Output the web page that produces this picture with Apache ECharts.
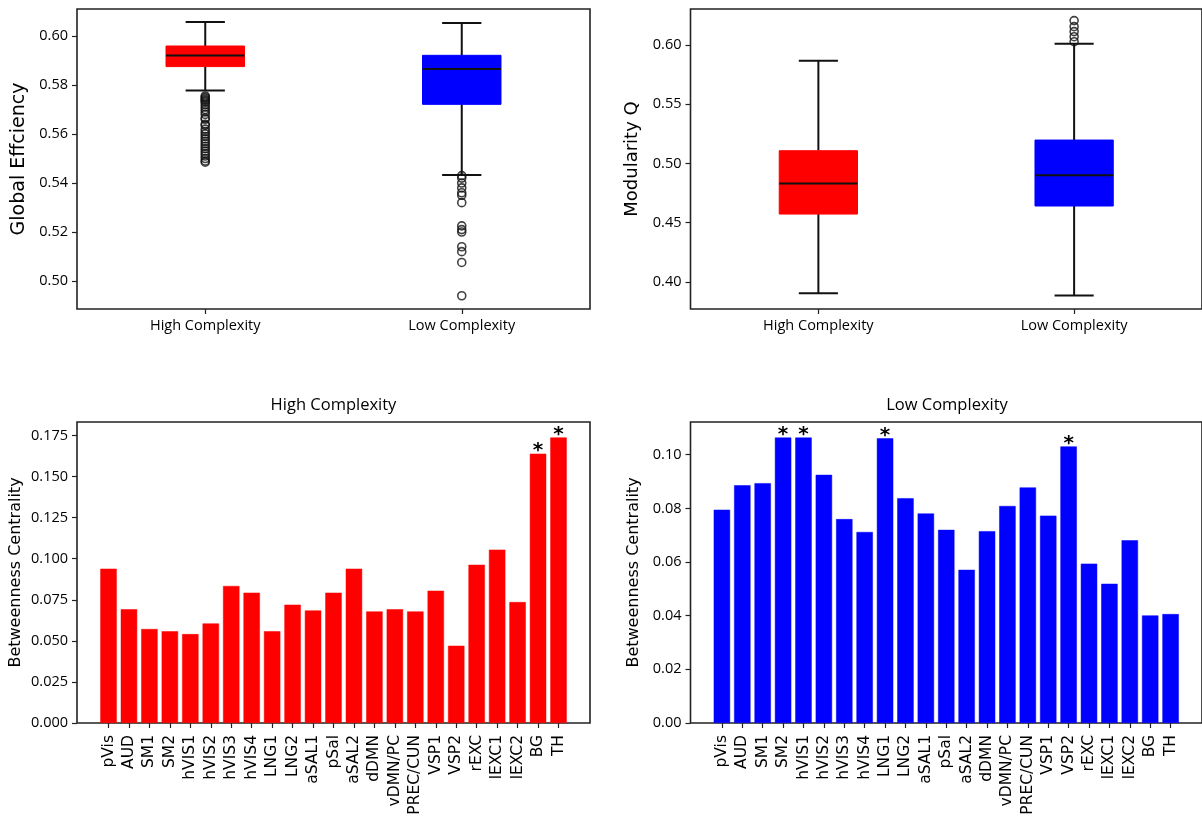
<!DOCTYPE html>
<html>
<head>
<meta charset="utf-8">
<script src="https://cdn.jsdelivr.net/npm/echarts@6/dist/echarts.min.js"></script>
<style>html,body{margin:0;padding:0;background:#fff}#c{width:1202px;height:819px}</style>
</head>
<body>
<div id="c"></div>
<script>
// ---- data ----
const groups = ['High Complexity', 'Low Complexity'];
// [min(whisker), Q1, median, Q3, max(whisker)]
const effHigh = [0.5777, 0.5875, 0.5920, 0.5959, 0.6057];
const effLow  = [0.5433, 0.5721, 0.5865, 0.5921, 0.6053];
const effOutHigh = [0.5755,0.575,0.5745,0.574,0.5735,0.573,0.572,0.571,0.570,0.569,0.568,0.5665,0.566,0.564,0.5635,0.562,0.561,0.560,0.559,0.558,0.557,0.556,0.555,0.554,0.553,0.552,0.551,0.550,0.549,0.5485];
const effOutLow = [0.543,0.542,0.540,0.538,0.536,0.535,0.532,0.5225,0.521,0.520,0.514,0.512,0.5076,0.494];
const modHigh = [0.3902, 0.4572, 0.4831, 0.5107, 0.5867];
const modLow  = [0.3884, 0.4640, 0.4899, 0.5197, 0.6010];
const modOutLow = [0.6028, 0.607, 0.6113, 0.6155, 0.6206];
const effTicks = [0.50, 0.52, 0.54, 0.56, 0.58, 0.60];
const modTicks = [0.40, 0.45, 0.50, 0.55, 0.60];

const regions = ['pVis','AUD','SM1','SM2','hVIS1','hVIS2','hVIS3','hVIS4','LNG1','LNG2','aSAL1','pSal','aSAL2','dDMN','vDMN/PC','PREC/CUN','VSP1','VSP2','rEXC','lEXC1','lEXC2','BG','TH'];
const bcHigh = [0.0939,0.0692,0.0572,0.0558,0.0541,0.0606,0.0834,0.0793,0.0558,0.0720,0.0685,0.0793,0.0939,0.0679,0.0692,0.0679,0.0805,0.0470,0.0963,0.1055,0.0736,0.1639,0.1738];
const bcLow  = [0.0795,0.0886,0.0894,0.1064,0.1064,0.0925,0.0760,0.0712,0.1061,0.0838,0.0781,0.0720,0.0571,0.0715,0.0809,0.0878,0.0773,0.1031,0.0594,0.0519,0.0681,0.0401,0.0406];
const sigHigh = ['BG','TH'];
const sigLow  = ['SM2','hVIS1','LNG1','VSP2'];
const bcHighTicks = [0, 0.025, 0.05, 0.075, 0.1, 0.125, 0.15, 0.175];
const bcLowTicks  = [0, 0.02, 0.04, 0.06, 0.08, 0.10];

// ---- chart ----
const TICKFONT = "'Open Sans', sans-serif";
const NAMEFONT = "'DejaVu Sans', sans-serif";
const idx = regions.map((_, i) => i);
const XMIN = -1.54, XMAX = regions.length - 1 + 1.54;

function grid(left, top, h) {
  return { left: left, top: top, width: 513, height: h, show: true, borderColor: '#222', borderWidth: 1.6, containLabel: false };
}
function catX(g) {
  return {
    type: 'category', gridIndex: g, data: groups,
    axisLine: { show: false, onZero: false },
    axisTick: { show: true, alignWithLabel: true, length: 5, lineStyle: { color: '#222', width: 1.2 } },
    axisLabel: { fontFamily: TICKFONT, fontSize: 14.5, color: '#000', margin: 9 },
    splitLine: { show: false }
  };
}
function barX(g) {
  return {
    type: 'value', gridIndex: g, min: XMIN, max: XMAX,
    axisLine: { show: false, onZero: false },
    axisTick: { show: true, length: 5, customValues: idx, lineStyle: { color: '#222', width: 1.2 } },
    axisLabel: { customValues: idx, rotate: 90, fontFamily: NAMEFONT, fontSize: 15.5, color: '#000', margin: 12,
      formatter: v => regions[Math.round(v)] },
    splitLine: { show: false }
  };
}
function valY(g, min, max, ticks, dec, name, nameSize, gap) {
  return {
    type: 'value', gridIndex: g, min: min, max: max,
    name: name, nameLocation: 'middle', nameGap: gap, nameRotate: 90,
    nameTextStyle: { fontFamily: NAMEFONT, fontSize: nameSize, color: '#000' },
    axisLine: { show: false, onZero: false },
    axisTick: { show: true, length: 5, customValues: ticks, lineStyle: { color: '#222', width: 1.2 } },
    axisLabel: { customValues: ticks, fontFamily: TICKFONT, fontSize: 14.5, color: '#000', margin: 9,
      formatter: v => v.toFixed(dec) },
    splitLine: { show: false }
  };
}

function boxRender(colors) {
  return function (params, api) {
    const c = api.value(0);
    const lo = api.coord([c, api.value(1)]);
    const q1 = api.coord([c, api.value(2)]);
    const md = api.coord([c, api.value(3)]);
    const q3 = api.coord([c, api.value(4)]);
    const hi = api.coord([c, api.value(5)]);
    const bw = api.size([1, 0])[0];
    const half = bw * 0.153;
    const cap = half / 2;
    const x = lo[0];
    const ls = { stroke: '#111', lineWidth: 2 };
    return {
      type: 'group',
      children: [
        { type: 'line', shape: { x1: x, y1: q1[1], x2: x, y2: lo[1] }, style: ls },
        { type: 'line', shape: { x1: x, y1: q3[1], x2: x, y2: hi[1] }, style: ls },
        { type: 'line', shape: { x1: x - cap, y1: lo[1], x2: x + cap, y2: lo[1] }, style: ls },
        { type: 'line', shape: { x1: x - cap, y1: hi[1], x2: x + cap, y2: hi[1] }, style: ls },
        { type: 'rect', shape: { x: x - half, y: q3[1], width: 2 * half, height: q1[1] - q3[1] },
          style: { fill: colors[c], stroke: colors[c], lineWidth: 1 } },
        { type: 'line', shape: { x1: x - half, y1: md[1], x2: x + half, y2: md[1] }, style: ls }
      ]
    };
  };
}
const boxColors = ['#ff0000', '#0000ff'];
function outlierSeries(xi, yi, cat, vals) {
  return {
    type: 'scatter', xAxisIndex: xi, yAxisIndex: yi, symbol: 'circle', symbolSize: 8,
    itemStyle: { color: 'rgba(0,0,0,0)', borderColor: '#111', borderWidth: 1.6 },
    data: vals.map(v => [cat, v]), silent: true
  };
}
function barSeries(xi, yi, vals, color, sig) {
  return {
    type: 'bar', xAxisIndex: xi, yAxisIndex: yi, barWidth: 16.4,
    itemStyle: { color: color, borderColor: color, borderWidth: 0.5 },
    data: vals.map((v, i) => [i, v]),
    label: { show: true, position: 'top', distance: -7, fontFamily: NAMEFONT, fontSize: 20, fontWeight: 'bold', color: '#000',
      formatter: p => sig.indexOf(regions[p.dataIndex]) >= 0 ? '*' : '' },
    silent: true
  };
}

const option = {
  animation: false,
  backgroundColor: '#fff',
  grid: [grid(77, 9, 300), grid(690.5, 9, 300), grid(77, 422, 301), grid(690.5, 422, 301)],
  xAxis: [catX(0), catX(1), barX(2), barX(3)],
  yAxis: [
    valY(0, 0.4886, 0.611, effTicks, 2, 'Global Effciency', 19, 48),
    valY(1, 0.377, 0.6304, modTicks, 2, 'Modularity Q', 18, 49),
    valY(2, 0, 0.1832, bcHighTicks, 3, 'Betweenness Centrality', 16, 53),
    valY(3, 0, 0.1122, bcLowTicks, 2, 'Betweenness Centrality', 16, 49)
  ],
  graphic: [
    { type: 'text', x: 333.5, y: 405, style: { text: 'High Complexity', align: 'center', verticalAlign: 'middle', font: "16.5px 'Open Sans', sans-serif", fill: '#000' } },
    { type: 'text', x: 947, y: 405, style: { text: 'Low Complexity', align: 'center', verticalAlign: 'middle', font: "16.5px 'Open Sans', sans-serif", fill: '#000' } }
  ],
  series: [
    { type: 'custom', xAxisIndex: 0, yAxisIndex: 0, renderItem: boxRender(boxColors),
      data: [[0].concat(effHigh), [1].concat(effLow)], silent: true },
    outlierSeries(0, 0, 0, effOutHigh),
    outlierSeries(0, 0, 1, effOutLow),
    { type: 'custom', xAxisIndex: 1, yAxisIndex: 1, renderItem: boxRender(boxColors),
      data: [[0].concat(modHigh), [1].concat(modLow)], silent: true },
    outlierSeries(1, 1, 1, modOutLow),
    barSeries(2, 2, bcHigh, '#ff0000', sigHigh),
    barSeries(3, 3, bcLow, '#0000ff', sigLow)
  ]
};
const chart = echarts.init(document.getElementById('c'), null, { renderer: 'canvas' });
chart.setOption(option);
</script>
</body>
</html>
